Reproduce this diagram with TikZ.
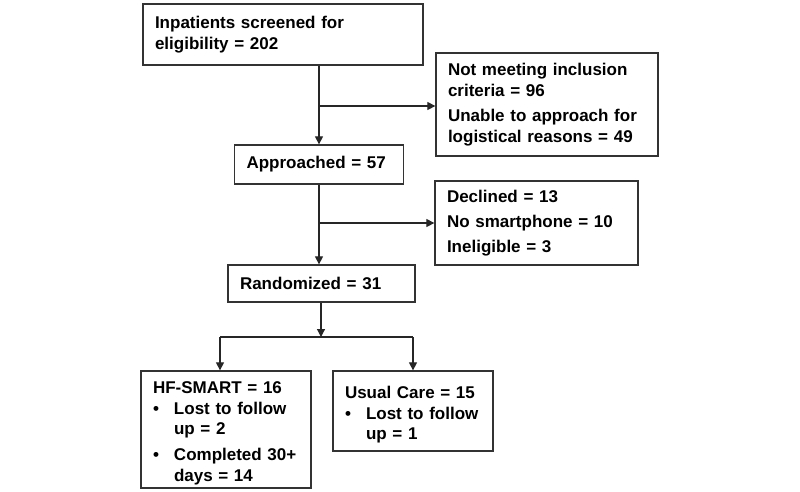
\documentclass[tikz,border=0pt]{standalone}
\usepackage{fontspec}
\setmainfont{Liberation Sans}
\usetikzlibrary{arrows.meta}
\newcommand{\blt}{\makebox[21pt][l]{\textbullet}}
\newcommand{\hng}{\hspace*{21pt}}
\newcommand{\topstrut}{\rule{0pt}{20pt}}
\begin{document}
\begin{tikzpicture}[x=1pt,y=-1pt,
  flowbox/.style={draw=black!80, line width=1.3pt, rectangle, align=left,
    inner xsep=12pt, inner ysep=0pt, anchor=center,
    font=\bfseries\fontsize{17}{20.5}\selectfont},
  conn/.style={draw=black!85, line width=1.2pt},
  arr/.style={conn, -{Triangle[length=8pt,width=8pt]}}]
\useasboundingbox (0,0) rectangle (800,491);
\node[flowbox, text width=256pt, minimum height=61pt] (screen) at (283,34.5)
  {Inpatients screened for\\eligibility = 202};
\node[flowbox, text width=198pt, minimum height=103pt] (excl1) at (547,104.5)
  {Not meeting inclusion\\criteria = 96\\[5pt]Unable to approach for\\logistical reasons = 49};
\node[flowbox, text width=145pt, minimum height=39pt] (appr) at (319,164.5)
  {Approached = 57};
\node[flowbox, text width=179pt, minimum height=84pt] (excl2) at (536.5,223)
  {Declined = 13\\[4.5pt]No smartphone = 10\\[4.5pt]Ineligible = 3};
\node[flowbox, text width=163pt, minimum height=37pt] (rand) at (321.5,283.5)
  {Randomized = 31};
\node[flowbox, text width=146pt, minimum height=117pt] (hf) at (226,429.5)
  {\topstrut HF-SMART = 16\\\blt Lost to follow\\\hng up = 2\\[5.5pt]\blt Completed 30+\\\hng days = 14};
\node[flowbox, text width=136pt, minimum height=80pt] (uc) at (413,411)
  {\topstrut Usual Care = 15\\\blt Lost to follow\\\hng up = 1};
% connectors
\coordinate (b1) at (319,106);
\coordinate (b2) at (319,223);
\coordinate (s3) at (321,337);
\coordinate (l3) at (220,337);
\coordinate (r3) at (413,337);
\draw[arr] (screen.south -| b1) -- (appr.north -| b1);
\draw[arr] (b1) -- (b1 -| excl1.west);
\draw[arr] (appr.south -| b2) -- (rand.north -| b2);
\draw[arr] (b2) -- (b2 -| excl2.west);
\draw[arr] (rand.south -| s3) -- (s3);
\draw[conn] (l3) -- (r3);
\draw[arr] (l3) -- (hf.north -| l3);
\draw[arr] (r3) -- (uc.north -| r3);
\end{tikzpicture}
\end{document}
